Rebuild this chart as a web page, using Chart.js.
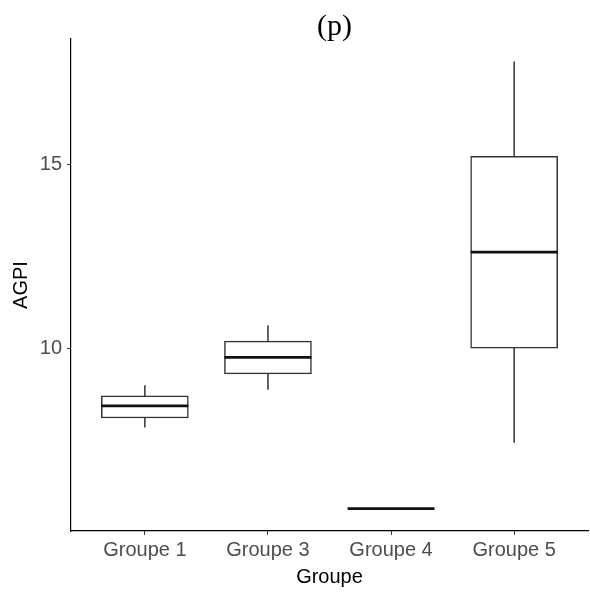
<!DOCTYPE html>
<html>
<head>
<meta charset="utf-8">
<script src="https://cdn.jsdelivr.net/npm/chart.js@4"></script>
<style>
    body { margin: 0; background: #fff; }
    canvas { display: block; }
</style>
</head>
<body>
<canvas id="boxplot" width="590" height="595"></canvas>
<script>
// Données
const categories = ['Groupe 1', 'Groupe 3', 'Groupe 4', 'Groupe 5'];
const whiskerLow = [7.84, 8.87, 5.64, 7.43];
const q1 = [8.10, 9.30, 5.64, 10.00];
const median = [8.43, 9.75, 5.64, 12.61];
const q3 = [8.70, 10.19, 5.64, 15.21];
const whiskerHigh = [8.99, 10.62, 5.64, 17.79];
const yTicks = [10, 15];
const titleText = '(p)';

document.addEventListener('DOMContentLoaded', function () {
    const ctx = document.getElementById('boxplot').getContext('2d');
    const sans = "'Liberation Sans', Arial, sans-serif";

    // Moustaches (sous les boîtes) et médianes (au-dessus)
    const boxPlugin = {
        id: 'boxParts',
        beforeDatasetsDraw(chart) {
            const { ctx, scales: { x, y } } = chart;
            ctx.save();
            ctx.strokeStyle = '#333333';
            ctx.lineWidth = 1.5;
            categories.forEach((c, i) => {
                const px = x.getPixelForValue(i + 1);
                ctx.beginPath();
                ctx.moveTo(px, y.getPixelForValue(whiskerHigh[i]));
                ctx.lineTo(px, y.getPixelForValue(q3[i]));
                ctx.moveTo(px, y.getPixelForValue(q1[i]));
                ctx.lineTo(px, y.getPixelForValue(whiskerLow[i]));
                ctx.stroke();
            });
            ctx.restore();
        },
        afterDatasetsDraw(chart) {
            const { ctx, scales: { x, y } } = chart;
            const meta = chart.getDatasetMeta(0);
            ctx.save();
            ctx.strokeStyle = '#111111';
            ctx.lineWidth = 2.8;
            categories.forEach((c, i) => {
                const bar = meta.data[i];
                const half = bar.width / 2;
                const py = y.getPixelForValue(median[i]);
                ctx.beginPath();
                ctx.moveTo(bar.x - half, py);
                ctx.lineTo(bar.x + half, py);
                ctx.stroke();
            });
            // titre
            const area = chart.chartArea;
            ctx.fillStyle = '#000';
            ctx.font = "30px 'Liberation Serif', 'Times New Roman', serif";
            ctx.textAlign = 'center';
            ctx.textBaseline = 'middle';
            ctx.fillText(titleText, (area.left + area.right) / 2 + 5, 27);
            ctx.restore();
        }
    };

    new Chart(ctx, {
        type: 'bar',
        data: {
            datasets: [{
                data: categories.map((c, i) => ({ x: i + 1, y: [q1[i], q3[i]] })),
                backgroundColor: '#ffffff',
                borderColor: '#333333',
                borderWidth: 1.5,
                borderSkipped: false,
                barThickness: 87,
            }],
        },
        options: {
            responsive: false,
            animation: false,
            devicePixelRatio: 1,
            layout: { padding: { top: 39, right: 2, left: 0, bottom: 0 } },
            plugins: {
                legend: { display: false },
                tooltip: { enabled: false },
                title: { display: false },
            },
            scales: {
                x: {
                    type: 'linear',
                    min: 0.4,
                    max: 4.6,
                    offset: false,
                    afterBuildTicks: (scale) => {
                        scale.ticks = categories.map((c, i) => ({ value: i + 1 }));
                    },
                    afterFit: (scale) => { scale.height = 64; },
                    ticks: {
                        autoSkip: false,
                        maxRotation: 0,
                        padding: 3,
                        color: '#4D4D4D',
                        font: { family: sans, size: 20 },
                        callback: (v) => categories[Math.round(v) - 1],
                    },
                    grid: {
                        display: true,
                        drawOnChartArea: false,
                        drawTicks: true,
                        tickLength: 4,
                        offset: false,
                        color: '#333333',
                    },
                    border: { display: true, color: '#000', width: 1.2 },
                    title: {
                        display: true,
                        text: 'Groupe',
                        color: '#000',
                        font: { family: sans, size: 20 },
                        padding: { top: 0, bottom: 6 },
                    },
                },
                y: {
                    min: 5.03,
                    max: 18.40,
                    afterBuildTicks: (scale) => {
                        scale.ticks = yTicks.map(v => ({ value: v }));
                    },
                    afterFit: (scale) => { scale.width = 71; },
                    ticks: {
                        padding: 5,
                        color: '#4D4D4D',
                        font: { family: sans, size: 20 },
                    },
                    grid: {
                        display: true,
                        drawOnChartArea: false,
                        drawTicks: true,
                        tickLength: 4,
                        color: '#333333',
                    },
                    border: { display: true, color: '#000', width: 1.2 },
                    title: {
                        display: true,
                        text: 'AGPI',
                        color: '#000',
                        font: { family: sans, size: 20 },
                        padding: { top: 9.5, bottom: 0 },
                    },
                },
            },
        },
        plugins: [boxPlugin],
    });
});
</script>
</body>
</html>
